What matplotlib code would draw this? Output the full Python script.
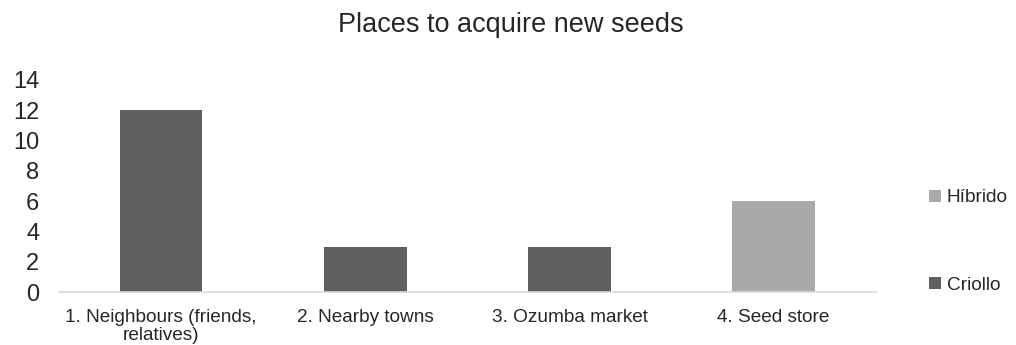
import matplotlib.pyplot as plt
import numpy as np

plt.rcParams['font.family'] = ['Liberation Sans', 'DejaVu Sans']

categorias = ['1. Neighbours (friends,\nrelatives)', '2. Nearby towns',
              '3. Ozumba market', '4. Seed store']
criollo = [12, 3, 3, 0]
hibrido = [0, 0, 0, 6]

x = np.arange(len(categorias))

fig = plt.figure(figsize=(10.16, 3.45), dpi=100)
ax = fig.add_axes([0.058, 0.1536, 0.804, 0.615])

b1 = ax.bar(x, criollo, width=0.405, color='#5f5f5f', label='Criollo')
b2 = ax.bar(x, hibrido, width=0.405, bottom=criollo, color='#a9a9a9', label='Híbrido')

ax.set_xlim(-0.5, len(categorias) - 0.5)
ax.set_ylim(0, 14)
ax.set_yticks(range(0, 15, 2))
ax.set_xticks(x)
ax.set_xticklabels(categorias, fontsize=13.7, color='#262626', linespacing=1.1)
ax.tick_params(axis='y', labelsize=17, colors='#262626', length=0, pad=14)
ax.tick_params(axis='x', length=0, pad=12)
for s in ['top', 'right', 'left']:
    ax.spines[s].set_visible(False)
ax.spines['bottom'].set_color('#d9d9d9')
ax.spines['bottom'].set_linewidth(1.2)

fig.suptitle('Places to acquire new seeds', fontsize=19.5, color='#262626',
             x=0.503, y=0.965)

fig.legend([b2, b1], ['Híbrido', 'Criollo'], loc='center left',
           bbox_to_anchor=(0.898, 0.3), frameon=False, fontsize=13.7,
           handlelength=0.6, handleheight=0.6, handletextpad=0.3,
           labelspacing=3.7, labelcolor='#262626')

fig.savefig('out.png')
